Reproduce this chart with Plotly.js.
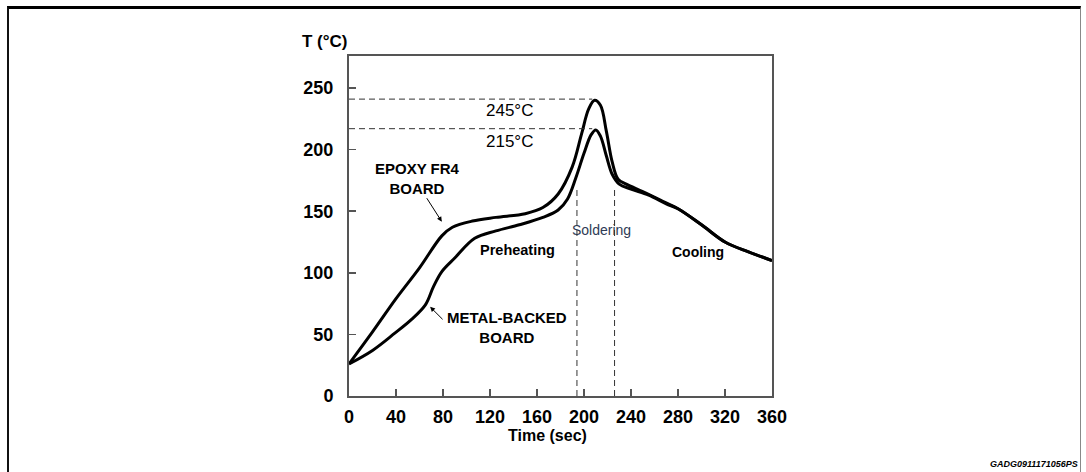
<!DOCTYPE html>
<html>
<head>
<meta charset="utf-8">
<script src="https://cdn.plot.ly/plotly-3.0.1.min.js"></script>
<style>
html,body{margin:0;padding:0;background:#fff;}
#wrap{position:relative;width:1086px;height:472px;overflow:hidden;}
#frame{position:absolute;left:7px;top:6px;width:1074px;height:480px;border-top:3px solid #000;border-left:2px solid #111;border-right:1px solid #888;box-sizing:border-box;pointer-events:none;z-index:2;}
#chart{position:absolute;left:0;top:0;width:1086px;height:472px;}
</style>
</head>
<body>
<div id="wrap"><div id="chart"></div><div id="frame"></div></div>
<script>
// Epoxy FR4 board profile (time in s, temperature in °C)
const epoxyTime = [0,20,40,60,79,88,105,125,150,165,178,190,198,204,209,214,219,224,229,236,250,265,280,300,320,340,360];
const epoxyTemp = [26,52,79,104,130,137,142,145,148,153,164,186,213,233,240,236,215,190,176,172,166,159,152,139,125,117,110];
// Metal-backed board profile
const metalTime = [0,20,39,53,65,72,79,90,107,125,145,165,178,186,193,200,206,210,214,219,224,230,240,255,270,280,300,320,340,360];
const metalTemp = [26,37,51,62,74,89,101,112,128,134,139,145,151,160,177,197,212,216,211,195,180,172,168,163,156,152,139,125,117,110];
// Peak reference levels (dashed guides) and their labels
const peakLevels = [241, 217];
const peakLabels = ["245°C", "215°C"];
const peakTimeEnd = 207;
// Soldering window boundaries
const solderStart = 194, solderEnd = 226, solderTop = 170;
const xTicks = [0,40,80,120,160,200,240,280,320,360];
const yTicks = [0,50,100,150,200,250];

const lineStyle = {color:'#000', width:3, shape:'spline', smoothing:1};
const traces = [
  {x: epoxyTime, y: epoxyTemp, mode:'lines', line: lineStyle, hoverinfo:'skip'},
  {x: metalTime, y: metalTemp, mode:'lines', line: lineStyle, hoverinfo:'skip'}
];
const dash = {color:'#333', width:1, dash:'6px,4px'};
peakLevels.forEach(v => traces.push({x:[0, peakTimeEnd], y:[v, v], mode:'lines', line: dash, hoverinfo:'skip'}));
[solderStart, solderEnd].forEach(t => traces.push({x:[t, t], y:[0, solderTop], mode:'lines', line: dash, hoverinfo:'skip'}));

const F = 'Liberation Sans, Arial, sans-serif';
const ann = [];
const A = (o) => ann.push(Object.assign({showarrow:false, xanchor:'center', yanchor:'middle'}, o));
peakLabels.forEach((s, i) => A({x:137, y:[231.5, 207][i], text:s, font:{family:F, size:17, color:'#000'}}));
A({x:57.9, y:176.8, text:'EPOXY FR4<br>BOARD', font:{family:F, size:15, color:'#000', weight:'bold'}});
ann.push({x:79, y:141.5, ax:-16, ay:-25, text:'', showarrow:true, arrowhead:2, arrowsize:1, arrowwidth:1, arrowcolor:'#000'});
A({x:134.5, y:56, text:'METAL-BACKED<br>BOARD', font:{family:F, size:15, color:'#000', weight:'bold'}});
ann.push({x:69, y:72.4, ax:14, ay:14, text:'', showarrow:true, arrowhead:2, arrowsize:1, arrowwidth:1, arrowcolor:'#000'});
A({x:143.8, y:118.4, text:'Preheating', font:{family:F, size:14.5, color:'#000', weight:'bold'}});
A({x:215, y:134.6, text:'Soldering', font:{family:F, size:14, color:'#2e3b55'}});
A({x:297, y:117, text:'Cooling', font:{family:F, size:14, color:'#000', weight:'bold'}});
A({xref:'paper', yref:'paper', x:-0.0567, y:1.044, text:'T (°C)', font:{family:F, size:17, color:'#000', weight:'bold'}});
A({xref:'paper', yref:'paper', x:0.470, y:-0.1176, text:'Time (sec)', font:{family:F, size:16, color:'#000', weight:'bold'}});
A({xref:'paper', yref:'paper', x:1.728, y:-0.2, xanchor:'right', text:'<i>GADG0911171056PS</i>', font:{family:F, size:9, color:'#000', weight:'bold'}});

const axisCommon = {
  showgrid:false, zeroline:false, showline:true, linecolor:'#555', linewidth:2, mirror:true,
  ticks:'inside', ticklen:7, tickwidth:1.5, tickcolor:'#555',
  tickfont:{family:F, size:18, color:'#000', weight:'bold'}, fixedrange:true
};
const layout = {
  width:1086, height:472, paper_bgcolor:'#fff', plot_bgcolor:'#fff', showlegend:false,
  margin:{l:349, r:314, t:56, b:76},
  xaxis: Object.assign({}, axisCommon, {range:[0,360], tickvals:xTicks, ticktext:xTicks.map(String), ticklabelstandoff:3}),
  yaxis: Object.assign({}, axisCommon, {range:[0,276], tickvals:yTicks, ticktext:yTicks.map(String), ticklabelstandoff:10}),
  annotations: ann
};
Plotly.newPlot('chart', traces, layout, {staticPlot:true, displayModeBar:false});
</script>
</body>
</html>
